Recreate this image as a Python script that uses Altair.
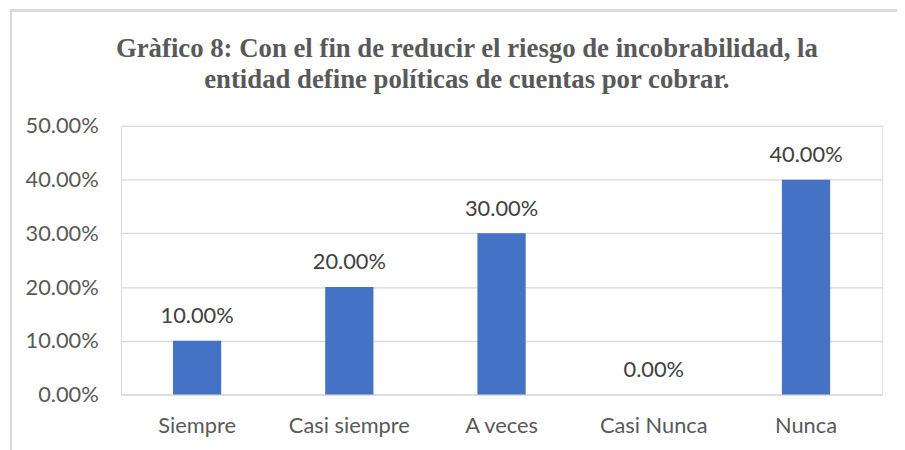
import altair as alt
import pandas as pd

categories = ["Siempre", "Casi siempre", "A veces", "Casi Nunca", "Nunca"]
values = [0.10, 0.20, 0.30, 0.00, 0.40]
y_ticks = [0.0, 0.1, 0.2, 0.3, 0.4, 0.5]
title_lines = [
    "Gràfico 8: Con el fin de reducir el riesgo de incobrabilidad, la",
    "entidad define políticas de cuentas por cobrar.",
]

df = pd.DataFrame({"cat": categories, "val": values})

W, H = 768, 271
FONT = "Lato"
FS = 22

x_enc = alt.X(
    "cat:N", sort=categories, title=None,
    scale=alt.Scale(paddingInner=0.683, paddingOuter=0.3415),
    axis=alt.Axis(labelAngle=0, domain=False, ticks=False, labelPadding=21,
                  labelFont=FONT, labelFontSize=FS, labelColor="#595959", grid=False),
)
y_enc = alt.Y(
    "val:Q", title=None,
    scale=alt.Scale(domain=[0, 0.5], nice=False),
    axis=alt.Axis(values=y_ticks, format=".2%", domain=False, ticks=False, labelPadding=23,
                  labelFont=FONT, labelFontSize=FS, labelColor="#595959",
                  grid=True, gridColor="#D9D9D9", gridWidth=1.3),
)

base = alt.Chart(df)
bars = base.mark_bar(color="#4472C4").encode(x=x_enc, y=y_enc)
labels = base.mark_text(dy=-18, baseline="alphabetic", font=FONT, fontSize=FS, color="#404040").encode(
    x=alt.X("cat:N", sort=categories), y="val:Q", text=alt.Text("val:Q", format=".2%")
)

frame_left = alt.Chart(df).mark_rule(color="#D9D9D9", strokeWidth=2).encode(
    x=alt.value(-111), y=alt.value(-116.5), y2=alt.value(H + 60)
)
frame_top = alt.Chart(df).mark_rule(color="#D9D9D9", strokeWidth=2).encode(
    x=alt.value(-112), x2=alt.value(W + 20), y=alt.value(-116.5)
)

chart = alt.layer(frame_left, frame_top, bars, labels).properties(
    width=W, height=H,
    title=alt.TitleParams(
        text=title_lines, font="Liberation Serif", fontSize=27, fontWeight="bold",
        color="#595959", anchor="middle", frame="group", dx=-35, offset=-85,
        lineHeight=31,
    ),
    autosize=alt.AutoSizeParams(type="none"),
    padding={"left": 114, "top": 117, "right": 15, "bottom": 54},
).configure_view(stroke=None).configure(background="white")

chart.save("out.html", embed_options={"renderer": "svg", "actions": False})
